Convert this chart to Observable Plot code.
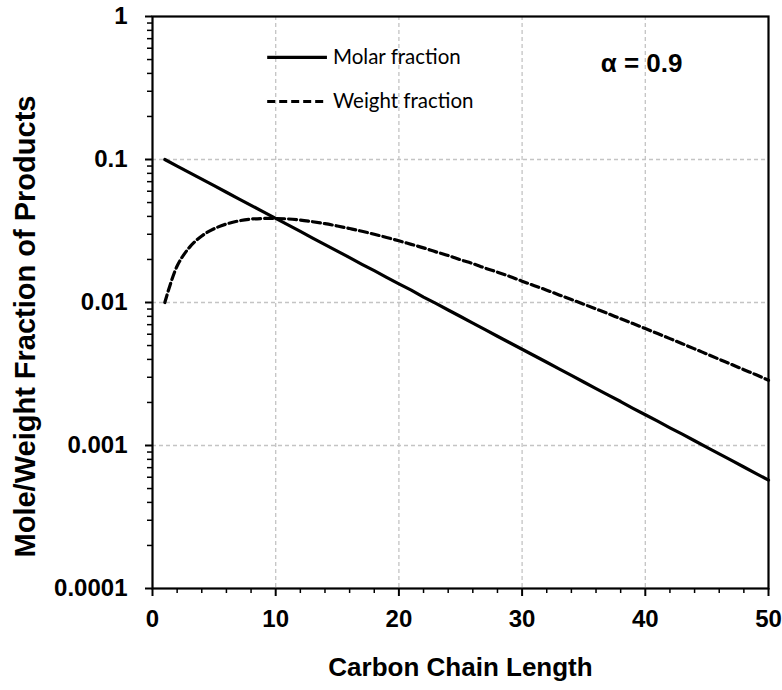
<!DOCTYPE html>
<html>
<head>
<meta charset="utf-8">
<script src="https://cdn.jsdelivr.net/npm/d3@7"></script>
<script src="https://cdn.jsdelivr.net/npm/@observablehq/plot@0.6"></script>
<style>
  html, body { margin: 0; padding: 0; background: #fff; }
  #chart svg { display: block; }
</style>
</head>
<body>
<div id="chart"></div>
<script>
// Carbon chain length (x)
const chainLength = [1,2,3,4,5,6,7,8,9,10,11,12,13,14,15,16,17,18,19,20,21,22,23,24,25,26,27,28,29,30,31,32,33,34,35,36,37,38,39,40,41,42,43,44,45,46,47,48,49,50];
// Molar fraction
const molarFraction = [0.1,0.09,0.081,0.0729,0.0656,0.0590,0.0531,0.0478,0.0430,0.0387,0.0349,0.0314,0.0282,0.0254,0.0229,0.0206,0.0185,0.0167,0.0150,0.0135,0.0122,0.0109,0.00985,0.00886,0.00798,0.00718,0.00646,0.00581,0.00523,0.00471,0.00424,0.00382,0.00343,0.00309,0.00278,0.00250,0.00225,0.00203,0.00182,0.00164,0.00148,0.00133,0.00120,0.00108,0.000970,0.000873,0.000786,0.000707,0.000636,0.000573];
// Weight fraction
const weightFraction = [0.01,0.018,0.0243,0.0292,0.0328,0.0354,0.0372,0.0383,0.0387,0.0387,0.0384,0.0377,0.0367,0.0356,0.0343,0.0329,0.0315,0.0300,0.0285,0.0270,0.0255,0.0241,0.0226,0.0213,0.0199,0.0187,0.0174,0.0163,0.0152,0.0141,0.0131,0.0122,0.0113,0.0105,0.00973,0.00901,0.00834,0.00770,0.00712,0.00657,0.00606,0.00559,0.00515,0.00474,0.00436,0.00401,0.00369,0.00339,0.00312,0.00286];

// Axis ticks
const xMajorTicks = [0,10,20,30,40,50];
const xMinorTicks = [2,4,6,8,12,14,16,18,22,24,26,28,32,34,36,38,42,44,46,48];
const xGrid = [10,20,30,40];
const yMajorTicks = [0.0001,0.001,0.01,0.1,1];
const yTickLabels = ["0.0001","0.001","0.01","0.1","1"];
const yMinorMultipliers = [2,3,4,5,6,7,8,9];
const yDecades = [0.0001,0.001,0.01,0.1];
const yGrid = [0.001,0.01,0.1];

const seriesNames = ["Molar fraction","Weight fraction"];
const alphaLabel = "α = 0.9";
const xTitle = "Carbon Chain Length";
const yTitle = "Mole/Weight Fraction of Products";

const yMinorTicks = yDecades.flatMap(d => yMinorMultipliers.map(m => d * m));
const molarData = chainLength.map((n, i) => ({n, v: molarFraction[i]}));
const weightData = chainLength.map((n, i) => ({n, v: weightFraction[i]}));
const yLabelMap = new Map(yMajorTicks.map((t, i) => [t, yTickLabels[i]]));

const boldFont = "'Liberation Sans', Arial, sans-serif";
const legendFont = "Lato, 'Open Sans', sans-serif";
const gridStyle = {stroke: "#c4c4c4", strokeOpacity: 1, strokeDasharray: "4,3", strokeWidth: 1.3};

const chart = Plot.plot({
  width: 782,
  height: 690,
  marginLeft: 152,
  marginRight: 14,
  marginTop: 16,
  marginBottom: 102,
  style: {fontFamily: boldFont, fontSize: "24px", fontWeight: "bold", color: "#000", background: "#fff", overflow: "visible"},
  x: {domain: [0, 50]},
  y: {type: "log", domain: [0.0001, 1]},
  marks: [
    Plot.gridX(xGrid, gridStyle),
    Plot.gridY(yGrid, gridStyle),
    Plot.axisX(xMinorTicks, {tickSize: 5, tickFormat: () => "", strokeWidth: 1.5, label: null}),
    Plot.axisX(xMajorTicks, {tickSize: 8, tickPadding: 13, tickFormat: d => String(d), strokeWidth: 2, label: null, fontSize: 24, fontWeight: "bold"}),
    Plot.axisY(yMinorTicks, {tickSize: 5, tickFormat: () => "", strokeWidth: 1.5, label: null}),
    Plot.axisY(yMajorTicks, {tickSize: 7, tickPadding: 18, tickFormat: d => yLabelMap.get(d), strokeWidth: 2, label: null, fontSize: 24, fontWeight: "bold"}),
    Plot.frame({stroke: "#000", strokeWidth: 2.2}),
    Plot.line(molarData, {x: "n", y: "v", stroke: "#000", strokeWidth: 3.2}),
    Plot.line(weightData, {x: "n", y: "v", stroke: "#000", strokeWidth: 3.2, strokeDasharray: "8,4", curve: "catmull-rom"}),
    // legend
    Plot.ruleY([0.517], {x1: 9.35, x2: 14.2, stroke: "#000", strokeWidth: 3.2}),
    Plot.ruleY([0.2545], {x1: 9.35, x2: 14.2, stroke: "#000", strokeWidth: 3.2, strokeDasharray: "8,4"}),
    Plot.text([seriesNames[0]], {x: 14.65, y: 0.517, text: d => d, textAnchor: "start", fontSize: 20.5, fontWeight: "normal", fontFamily: legendFont, fill: "#000"}),
    Plot.text([seriesNames[1]], {x: 14.65, y: 0.2545, text: d => d, textAnchor: "start", fontSize: 20.5, fontWeight: "normal", fontFamily: legendFont, fill: "#000"}),
    Plot.text([alphaLabel], {x: 39.7, y: 0.469, text: d => d, fontSize: 26, fontWeight: "bold", fill: "#000"}),
    // axis titles
    Plot.text([xTitle], {frameAnchor: "bottom", dy: 87, text: d => d, fontSize: 26, fontWeight: "bold", fill: "#000"}),
    Plot.text([yTitle], {frameAnchor: "left", textAnchor: "middle", dx: -127, dy: 24, rotate: -90, text: d => d, fontSize: 29, fontWeight: "bold", fill: "#000"})
  ]
});
document.getElementById("chart").appendChild(chart);
</script>
</body>
</html>
